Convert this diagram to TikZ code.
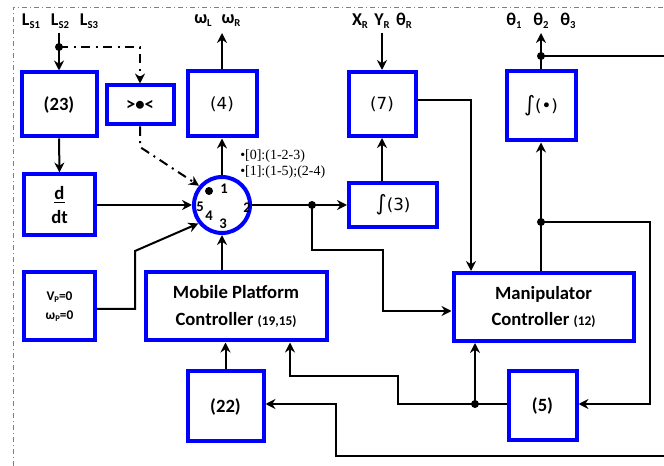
\documentclass[tikz,border=0pt]{standalone}
\usepackage{fontspec}
\setmainfont{Carlito}
\newfontfamily\dvs{DejaVu Sans}
\newfontfamily\tms{Liberation Serif}
\usetikzlibrary{arrows.meta}
\newcommand\sbs[1]{\raisebox{-0.35ex}{\fontsize{8}{8}\selectfont #1}}
\newcommand\sbsm[1]{\raisebox{-0.35ex}{\fontsize{6.5}{7}\selectfont #1}}
\begin{document}
\begin{tikzpicture}[x=0.75pt,y=-0.75pt,
  blbox/.style={draw=blue, line width=3pt, fill=white, inner sep=0pt, align=center,
    font=\fontsize{14}{17}\selectfont\bfseries},
  dvbox/.style={blbox, font=\dvs\fontsize{12.5}{14}\selectfont},
  ln/.style={line width=1.5pt},
  arr/.style={line width=1.5pt, -{Stealth[length=7.5pt,width=7.5pt,inset=2.5pt]}},
  ddl/.style={line width=1.5pt, dash pattern=on 7pt off 4pt on 1.5pt off 4pt},
  frame/.style={draw=gray, line width=0.6pt, dash pattern=on 4pt off 2pt on 1pt off 2pt},
  toplab/.style={inner sep=0pt, font=\fontsize{13.5}{15}\selectfont\bfseries},
  numlab/.style={inner sep=0pt, font=\fontsize{11}{13}\selectfont\bfseries},
  serlab/.style={inner sep=0pt, anchor=west, font=\tms\fontsize{10.5}{12}\selectfont}
]
\useasboundingbox (0,0) rectangle (664,466);
\draw[frame] (13,466) -- (13,7) -- (664,7);

% boxes
\node[blbox, minimum width=56.25pt, minimum height=48pt] (b23) at (59,104.5) {(23)};
\node[blbox, minimum width=50.25pt, minimum height=29.25pt] (cmp) at (140,105) {>•<};
\node[dvbox, minimum width=51.75pt, minimum height=48.75pt] (b4) at (222,104) {(4)};
\node[blbox, minimum width=53.25pt, minimum height=45.75pt, font=\fontsize{14}{17.5}\selectfont\bfseries] (bddt) at (59.5,205) {\underline{d}\\dt};
\node[draw=blue, line width=3pt, fill=white, circle, inner sep=0pt, minimum size=42pt] (circ) at (222,205) {};
\node[blbox, minimum width=53.25pt, minimum height=51pt, font=\fontsize{10}{14}\selectfont\bfseries] (bvp) at (59.5,306.5) {V\sbsm{P}=0\\ω\sbsm{P}=0};
\node[blbox, minimum width=135.75pt, minimum height=51pt, font=\fontsize{14}{20}\selectfont\bfseries] (mpc) at (236,306.5) {Mobile Platform\\Controller {\fontsize{10}{10}\selectfont(19,15)}};
\node[blbox, minimum width=57pt, minimum height=52.5pt] (b22) at (225.5,406.5) {(22)};
\node[dvbox, minimum width=50.25pt, minimum height=48pt] (b7) at (382,104) {(7)};
\node[dvbox, minimum width=66pt, minimum height=33pt] (bint3) at (393,205) {{\fontsize{16}{16}\selectfont∫}(3)};
\node[dvbox, minimum width=51.75pt, minimum height=51.75pt] (bintd) at (541,106) {{\fontsize{16}{16}\selectfont∫}(•)};
\node[blbox, minimum width=135pt, minimum height=51pt, font=\fontsize{14}{20}\selectfont\bfseries] (manip) at (543.5,307) {Manipulator\\Controller {\fontsize{10}{10}\selectfont(12)}};
\node[blbox, minimum width=51pt, minimum height=51.75pt] (b5) at (542.5,405.5) {(5)};

% top labels
\node[toplab] (lsa) at (31,21) {L\sbs{S1}};
\node[toplab] (lsb) at (60,21) {L\sbs{S2}};
\node[toplab] (lsc) at (89,21) {L\sbs{S3}};
\node[toplab] (wl) at (203,21) {ω\sbs{L}};
\node[toplab] (wr) at (231,21) {ω\sbs{R}};
\node[toplab] (xr) at (360,21) {X\sbs{R}};
\node[toplab] (yr) at (382,21) {Y\sbs{R}};
\node[toplab] (tr) at (404,21) {θ\sbs{R}};
\node[toplab] (t1) at (514,21) {θ\sbs{1}};
\node[toplab] (t2) at (541,21) {θ\sbs{2}};
\node[toplab] (t3) at (568,21) {θ\sbs{3}};

% circle labels
\fill (209,191) circle[radius=3pt];
\node[numlab] (n1) at (224,189) {1};
\node[numlab] (n2) at (247,208) {2};
\node[numlab] (n3) at (223,224) {3};
\node[numlab] (n4) at (209,216) {4};
\node[numlab] (n5) at (200,207) {5};
\node[serlab] (s0) at (240,156) {•[0]:(1-2-3)};
\node[serlab] (s1l) at (240,172) {•[1]:(1-5);(2-4)};

% connectors
\coordinate (lsin) at (59,33);
\coordinate (jls) at (59,47);
\draw[arr] (lsin) -- (b23.north);
\draw[ddl,arr] (jls) -- (jls -| cmp.north) -- (cmp.north);
\fill (jls) circle[radius=3pt];

\coordinate (wout) at (222,33);
\draw[arr] (b4.north) -- (wout);
\draw[arr] (circ.north) -- (b4.south);

\coordinate (dcorner) at (140,147);
\draw[ddl,arr] (cmp.south) -- (dcorner) -- (circ.140);

\draw[arr] (bddt.east) -- (circ.west);
\draw[arr] (b23.south) -- (bddt.north);

\coordinate (vpa) at (135,309);
\coordinate (vpb) at (135,251);
\draw[arr] (bvp.east |- vpa) -- (vpa) -- (vpb) -- (circ.218);

\draw[arr] (circ.south |- mpc.north) -- (circ.south);

\coordinate (j1) at (312,205);
\draw[arr] (circ.east) -- (bint3.west);
\fill (j1) circle[radius=3pt];
\coordinate (m1) at (312,250);
\coordinate (m2) at (383,250);
\coordinate (m3) at (383,311);
\draw[arr] (j1) -- (m1) -- (m2) -- (m3) -- (m3 -| manip.west);

\draw[arr] (bint3.north -| b7.south) -- (b7.south);
\coordinate (xin) at (382,33);
\draw[arr] (xin) -- (b7.north);

\coordinate (s1) at (471,100);
\draw[arr] (b7.east |- s1) -- (s1) -- (s1 |- manip.north);

\coordinate (tout) at (541,33);
\coordinate (j2) at (541,56);
\coordinate (redge) at (664,56);
\draw[arr] (bintd.north) -- (tout);
\draw[ln] (j2) -- (redge);
\fill (j2) circle[radius=3pt];

\coordinate (j3) at (541,222);
\draw[arr] (j3 |- manip.north) -- (j3 |- bintd.south);
\fill (j3) circle[radius=3pt];
\coordinate (r1) at (650,222);
\coordinate (r2) at (650,404);
\draw[arr] (j3) -- (r1) -- (r2) -- (r2 -| b5.east);

\coordinate (j4) at (475,404);
\coordinate (q1) at (398,404);
\coordinate (q2) at (398,376);
\coordinate (q3) at (290,376);
\draw[arr] (b5.west |- j4) -- (q1) -- (q2) -- (q3) -- (q3 |- mpc.south);
\draw[arr] (j4) -- (j4 |- manip.south);
\fill (j4) circle[radius=3pt];

\draw[arr] (b22.north) -- (b22.north |- mpc.south);

\coordinate (e1) at (664,456);
\coordinate (e2) at (336,456);
\coordinate (e3) at (336,404);
\draw[arr] (e1) -- (e2) -- (e3) -- (e3 -| b22.east);
\end{tikzpicture}
\end{document}
